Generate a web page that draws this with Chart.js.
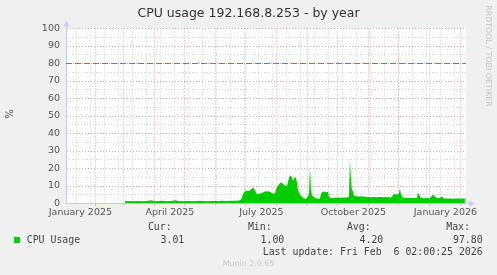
<!DOCTYPE html>
<html>
<head>
<meta charset="utf-8">
<script src="https://cdn.jsdelivr.net/npm/chart.js@4.4.1/dist/chart.umd.min.js"></script>
<style>
  html, body { margin: 0; padding: 0; background: #f0f0f0; }
  #wrap { position: relative; width: 497px; height: 275px; overflow: hidden; }
  #grafico { position: absolute; left: 0; top: 0; }
  .txt { position: absolute; white-space: pre; line-height: 1; }
  .mono { font-family: "DejaVu Sans Mono", monospace; font-size: 9.9px; color: #444; }
  .sans { font-family: "DejaVu Sans", sans-serif; }
</style>
</head>
<body>
<div id="wrap">
  <canvas id="grafico" width="497" height="275"></canvas>

  <!-- titulo -->
  <div class="txt sans" style="left:0;width:497px;top:7px;text-align:center;font-size:12.5px;color:#333;">CPU usage 192.168.8.253 - by year</div>

  <!-- etiquetas verticales -->
  <div class="txt sans" style="left:0.3px;top:108px;width:20px;line-height:12px;text-align:center;font-size:10px;color:#555;transform:rotate(-90deg);">%</div>
  <div class="txt sans" style="left:432.5px;top:51px;width:110px;line-height:10px;text-align:center;font-size:7.9px;color:#c4c4c4;transform:rotate(90deg);">RRDTOOL / TOBI OETIKER</div>

  <!-- leyenda -->
  <div class="txt mono" style="right:325.3px;top:221.6px;">Cur:</div>
  <div class="txt mono" style="right:225.3px;top:221.6px;">Min:</div>
  <div class="txt mono" style="right:126.3px;top:221.6px;">Avg:</div>
  <div class="txt mono" style="right:27px;top:221.6px;">Max:</div>

  <div style="position:absolute;left:14px;top:237px;width:6px;height:6px;background:#00cc00;"></div>
  <div class="txt mono" style="left:26.7px;top:234.6px;">CPU Usage</div>
  <div class="txt mono" style="right:312.7px;top:234.6px;">3.01</div>
  <div class="txt mono" style="right:212.7px;top:234.6px;">1.00</div>
  <div class="txt mono" style="right:113.7px;top:234.6px;">4.20</div>
  <div class="txt mono" style="right:14.3px;top:234.6px;">97.80</div>

  <div class="txt mono" style="right:14.3px;top:246.6px;">Last update: Fri Feb  6 02:00:25 2026</div>

  <div class="txt sans" style="left:0;width:497px;top:260.3px;text-align:center;font-size:7.9px;color:#c8c8c8;">Munin 2.0.65</div>
</div>

<script>
// Dias contados desde el 1 de enero de 2025
const DAYS = [
  60, 63, 66, 70, 74, 78, 82, 86, 90, 94,
  98, 102, 106, 110, 114, 118, 122, 126, 130, 134,
  138, 142, 146, 150, 154, 158, 162, 166, 170, 174,
  176, 177, 178, 180, 182, 184, 186, 188, 190, 192,
  194, 196, 198, 200, 202, 204, 206, 208, 210, 212,
  214, 216, 218, 220, 222, 224, 225, 227, 228, 229,
  231, 232, 233, 235, 237, 239, 241, 243, 244, 245,
  246, 247, 249, 251, 253, 255, 256, 257, 259, 261,
  263, 264, 266, 268, 271, 274, 277, 280, 283, 284,
  285, 286, 287, 288, 289, 291, 294, 297, 300, 303,
  306, 309, 312, 315, 318, 321, 324, 327, 328, 330,
  332, 334, 335, 336, 338, 341, 344, 347, 350, 352,
  353, 354, 356, 359, 362, 365, 367, 369, 371, 374,
  377, 379, 382, 385, 388, 391, 394, 397, 400,
];

// Uso de CPU (%)
const CPU = [
  1.6, 1.3, 1.4, 1.3, 1.5, 1.3, 1.4, 1.8, 1.3, 1.4,
  1.6, 1.3, 1.5, 1.9, 1.4, 1.3, 1.5, 1.4, 1.3, 1.6,
  1.4, 1.3, 1.5, 1.5, 1.5, 1.6, 1.5, 1.6, 1.6, 1.7,
  2.2, 3.5, 5.5, 6.8, 7.4, 7.2, 7.8, 9.3, 7.4, 5.5,
  5.6, 5.9, 6.3, 6.8, 7.0, 6.8, 6.5, 5.6, 6.0, 9.5,
  10.8, 12.2, 11.2, 10.4, 10.0, 14.5, 16.0, 15.2, 13.0, 14.5,
  15.0, 12.0, 8.0, 5.2, 3.8, 2.8, 2.7, 4.0, 5.5, 21.0,
  8.0, 4.8, 3.6, 3.0, 2.7, 2.8, 5.5, 6.5, 6.8, 6.5,
  6.6, 4.0, 3.0, 3.3, 3.2, 3.4, 3.3, 3.5, 3.6, 4.0,
  25.0, 14.0, 8.0, 7.0, 4.6, 4.2, 4.0, 4.1, 3.8, 3.7,
  3.6, 3.7, 3.6, 3.8, 3.6, 3.7, 3.6, 3.6, 5.0, 5.5,
  5.0, 6.0, 8.4, 5.5, 3.4, 3.2, 3.3, 3.1, 3.2, 3.3,
  6.5, 5.0, 3.2, 3.0, 3.1, 3.0, 4.6, 4.8, 3.4, 3.0,
  4.0, 2.9, 2.8, 2.9, 2.7, 2.8, 2.9, 2.8, 3.0,
];

// Inicio de cada mes (dias desde 1 ene 2025)
const MONTH_STARTS = [0, 31, 59, 90, 120, 151, 181, 212, 243, 273, 304, 334, 365, 396, 424];
const LABEL_MONTHS = [0, 3, 6, 9, 12];
const X_LABELS = ["January 2025", "April 2025", "July 2025", "October 2025", "January 2026"];

// Lineas menores: lunes cada dos semanas desde el 13 ene 2025
const MINOR_START = 12;
const MINOR_STEP = 14;

const Y_MAJOR = [0, 10, 20, 30, 40, 50, 60, 70, 80, 90, 100];
const Y_MINOR = [5, 15, 25, 35, 45, 55, 65, 75, 85, 95];
const WARN = 80;

// Ventana de 400 dias hasta la ultima actualizacion
const X_MAX = 401.08;
const X_MIN = X_MAX - 400;

const VERDE = "#00cc00";
const EJE = "#c8c8f4";
const GRIS = "#cfcfcf";
const ROJO = "#eaa0a0";
const FUENTE = { family: "DejaVu Sans", size: 9.5 };

const minorX = [];
for (let d = MINOR_START; d <= X_MAX; d += MINOR_STEP) minorX.push(d);
const monthX = MONTH_STARTS.filter((d) => d > X_MIN && d <= X_MAX);
const labelX = LABEL_MONTHS.map((i) => (MONTH_STARTS[i] + MONTH_STARTS[i + 1]) / 2);

const puntos = DAYS.map((d, i) => ({ x: d, y: CPU[i] }));

// fondo blanco del area y flechas de los ejes
const fondoYFlechas = {
  id: "fondoYFlechas",
  beforeDraw(chart) {
    const { ctx, chartArea: a } = chart;
    ctx.save();
    ctx.fillStyle = "#ffffff";
    ctx.fillRect(a.left, a.top, a.right - a.left, a.bottom - a.top);
    ctx.restore();
  },
  afterDraw(chart) {
    const { ctx, chartArea: a } = chart;
    const x0 = Math.round(a.left) + 0.5;
    const y0 = Math.floor(a.bottom) + 0.5;
    ctx.save();
    ctx.strokeStyle = EJE;
    ctx.fillStyle = EJE;
    ctx.lineWidth = 1;
    ctx.beginPath();
    ctx.moveTo(x0, a.top);
    ctx.lineTo(x0, a.top - 3);
    ctx.moveTo(a.right, y0);
    ctx.lineTo(a.right + 3, y0);
    ctx.stroke();
    ctx.beginPath();
    ctx.moveTo(x0, a.top - 8);
    ctx.lineTo(x0 - 3, a.top - 2);
    ctx.lineTo(x0 + 3, a.top - 2);
    ctx.closePath();
    ctx.fill();
    ctx.beginPath();
    ctx.moveTo(a.right + 9, y0);
    ctx.lineTo(a.right + 3, y0 - 3);
    ctx.lineTo(a.right + 3, y0 + 3);
    ctx.closePath();
    ctx.fill();
    ctx.restore();
  },
};

const sinAlto = (s) => { s.height = 0; };
const sinAncho = (s) => { s.width = 0; };

new Chart(document.getElementById("grafico"), {
  type: "line",
  data: {
    datasets: [
      {
        label: "Warning",
        data: [{ x: X_MIN, y: WARN }, { x: X_MAX, y: WARN }],
        borderColor: VERDE,
        borderWidth: 1,
        borderDash: [6, 3],
        pointRadius: 0,
        fill: false,
      },
      {
        label: "CPU Usage",
        data: puntos,
        borderColor: VERDE,
        backgroundColor: VERDE,
        borderWidth: 0,
        pointRadius: 0,
        tension: 0,
        fill: "origin",
      },
    ],
  },
  options: {
    responsive: false,
    animation: false,
    devicePixelRatio: 1,
    layout: { padding: { top: 28.5, right: 31, bottom: 51.5, left: 0 } },
    plugins: {
      legend: { display: false },
      tooltip: { enabled: false },
      title: { display: false },
    },
    scales: {
      x: {
        type: "linear",
        position: "bottom",
        min: X_MIN,
        max: X_MAX,
        afterBuildTicks: (s) => { s.ticks = minorX.map((v) => ({ value: v })); },
        afterFit: sinAlto,
        ticks: { display: false, autoSkip: false },
        grid: { color: GRIS, drawTicks: false },
        border: { display: true, color: EJE, width: 1, dash: [1, 2] },
      },
      xMonth: {
        type: "linear",
        position: "bottom",
        min: X_MIN,
        max: X_MAX,
        afterBuildTicks: (s) => { s.ticks = monthX.map((v) => ({ value: v })); },
        afterFit: sinAlto,
        ticks: { display: false, autoSkip: false },
        grid: { color: ROJO, drawTicks: true, tickLength: 2, tickColor: ROJO },
        border: { display: false, dash: [1, 2] },
      },
      xLab: {
        type: "linear",
        position: "bottom",
        min: X_MIN,
        max: X_MAX,
        afterBuildTicks: (s) => { s.ticks = labelX.map((v) => ({ value: v })); },
        afterFit: (s) => { s.height = 20; },
        ticks: {
          autoSkip: false,
          maxRotation: 0,
          padding: 3,
          color: "#555555",
          font: FUENTE,
          callback: (v, i) => X_LABELS[i],
        },
        grid: { display: false, drawTicks: false },
        border: { display: false },
      },
      y: {
        type: "linear",
        position: "left",
        min: 0,
        max: 100,
        afterBuildTicks: (s) => { s.ticks = Y_MINOR.map((v) => ({ value: v })); },
        afterFit: sinAncho,
        ticks: { display: false, autoSkip: false },
        grid: { color: GRIS, drawTicks: false },
        border: { display: false, dash: [1, 2] },
      },
      yMajor: {
        type: "linear",
        position: "left",
        min: 0,
        max: 100,
        afterBuildTicks: (s) => { s.ticks = Y_MAJOR.map((v) => ({ value: v })); },
        afterFit: (s) => { s.width = 66; },
        ticks: {
          autoSkip: false,
          padding: 6,
          color: "#555555",
          font: FUENTE,
        },
        grid: { color: ROJO, drawTicks: false },
        border: { display: true, color: EJE, width: 1, dash: [1, 2] },
      },
    },
  },
  plugins: [fondoYFlechas],
});
</script>
</body>
</html>
